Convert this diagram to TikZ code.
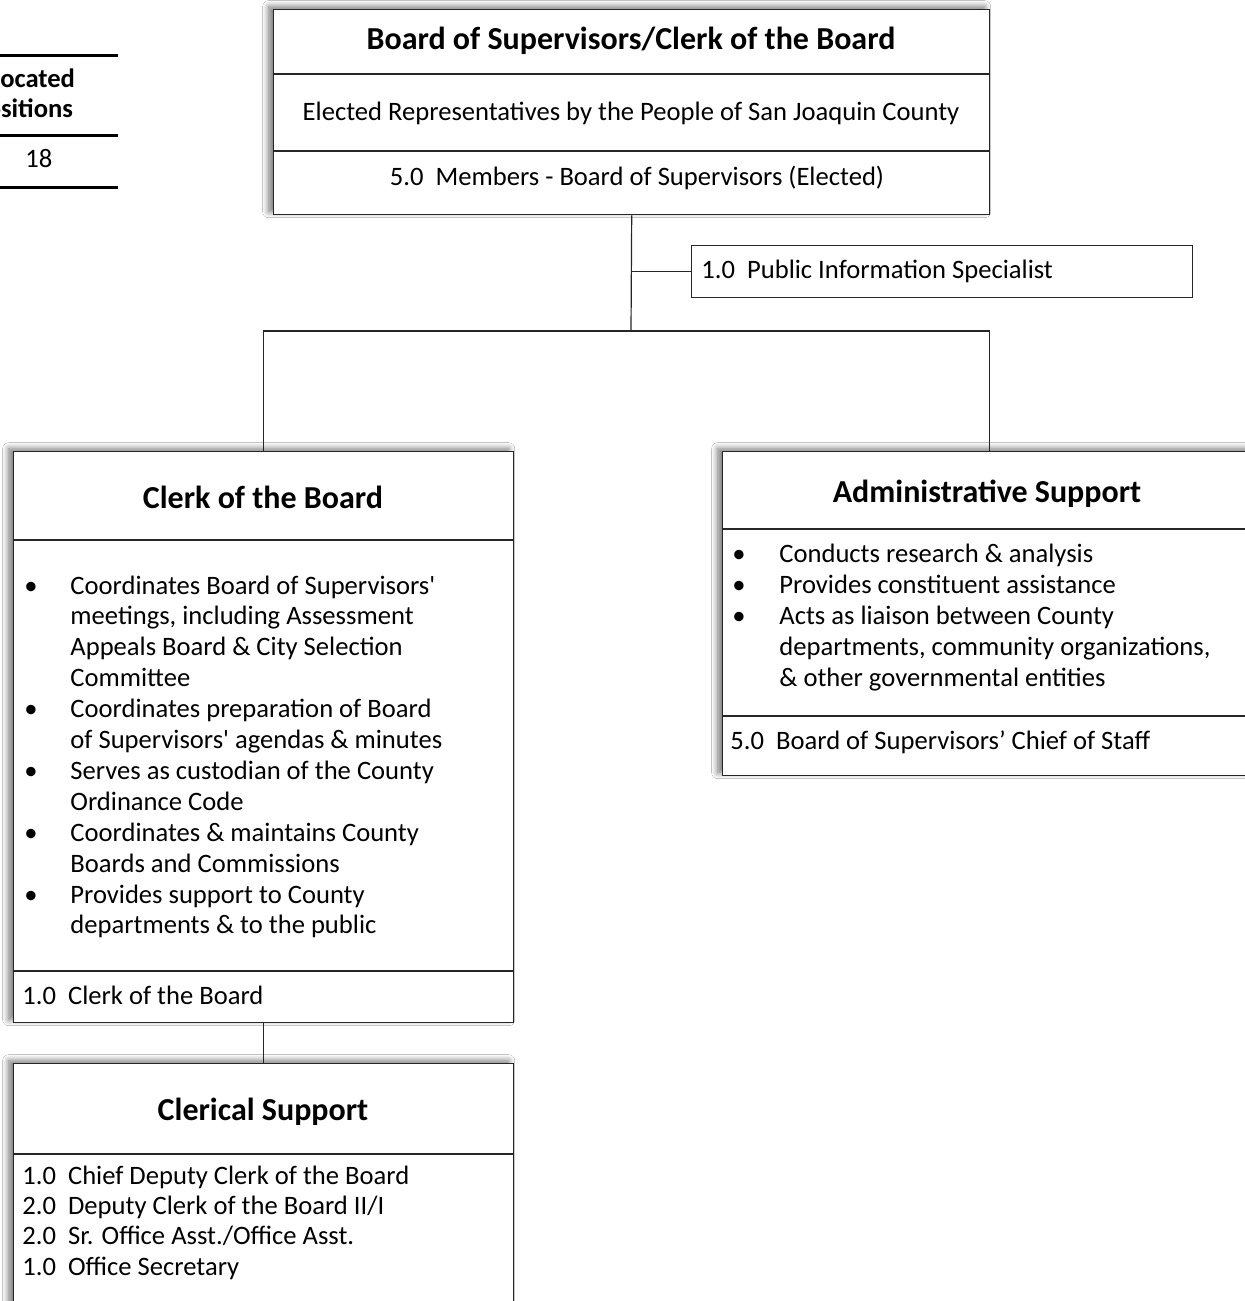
\documentclass[tikz,border=0pt]{standalone}
\usepackage{fontspec}
\setmainfont{Carlito}
\usetikzlibrary{shadows.blur,calc}
\newcommand\regfont{\fontsize{13.3}{15.45}\selectfont}
\newcommand\headfont{\fontsize{16}{18}\selectfont\bfseries}
\tikzset{
  box/.style={draw=black!85, line width=0.7pt, fill=white, rectangle, inner sep=0pt, anchor=north west},
  shbox/.style={box, blur shadow={shadow xshift=-2.5pt, shadow yshift=1.5pt, shadow blur radius=3pt, shadow blur steps=12, shadow opacity=55}},
  div/.style={draw=black!85, line width=0.7pt},
  conn/.style={draw=black!85, line width=0.6pt},
  rule/.style={draw=black, line width=1.5pt},
  lbl/.style={inner sep=0pt, font=\regfont},
  ttl/.style={inner sep=0pt, font=\headfont, anchor=base},
}
\begin{document}
\begin{tikzpicture}[x=0.5pt,y=-0.5pt]
\fill[white] (0,0) rectangle (1245,1301);
\path[use as bounding box] (0,0) rectangle (1245,1301);
\clip (0,0) rectangle (1245,1301);

% partial table at left
\draw[rule] (-5,55) -- (118,55);
\draw[rule] (-5,135) -- (118,135);
\draw[rule] (-5,187) -- (118,187);
\node[inner sep=0pt, font=\fontsize{13.3}{15}\selectfont\bfseries, align=center, anchor=base] (alloc) at (23,117) {Allocated\\[0pt]Positions};
\node[lbl, anchor=base west] (num) at (25,167) {18};

% top box
\node[shbox, minimum width=358pt, minimum height=102.5pt] (top) at (273,9) {};
\draw[div] (273,74) -- (989,74);
\draw[div] (273,151) -- (989,151);
\node[ttl] (toptitle) at (631,49) {Board of Supervisors/Clerk of the Board};
\node[lbl, anchor=base] (elected) at (631,120) {Elected Representatives by the People of San Joaquin County};
\node[lbl, anchor=base] (members) at (637,185) {5.0~~Members - Board of Supervisors (Elected)};

% public information specialist
\node[box, minimum width=250.5pt, minimum height=26pt] (pis) at (691,245) {};
\node[lbl, anchor=base west] (pistext) at (701,278) {1.0~~Public Information Specialist};

% clerk of the board
\node[shbox, minimum width=250pt, minimum height=285.5pt] (clerk) at (13,451) {};
\draw[div] (13,540) -- (513,540);
\draw[div] (13,971) -- (513,971);
\node[ttl] (clerktitle) at (263,508) {Clerk of the Board};
\node[lbl, anchor=base west] (clerklist) at (24,594) {\begin{tabular}[t]{@{}p{23pt}@{}l@{}}
\textbullet & Coordinates Board of Supervisors\textquotesingle\\
 & meetings, including Assessment\\
 & Appeals Board \& City Selection\\
 & Committee\\
\textbullet & Coordinates preparation of Board\\
 & of Supervisors\textquotesingle\ agendas \& minutes\\
\textbullet & Serves as custodian of the County\\
 & Ordinance Code\\
\textbullet & Coordinates \& maintains County\\
 & Boards and Commissions\\
\textbullet & Provides support to County\\
 & departments \& to the public
\end{tabular}};
\node[lbl, anchor=base west] (clerkpos) at (22,1004) {1.0~~Clerk of the Board};

% administrative support
\node[shbox, minimum width=267pt, minimum height=162pt] (admin) at (722,451) {};
\draw[div] (722,529) -- (1256,529);
\draw[div] (722,716) -- (1256,716);
\node[ttl] (admintitle) at (987,502) {Administrative Support};
\node[lbl, anchor=base west] (adminlist) at (732,562) {\fontsize{13.3}{15.6}\selectfont\begin{tabular}[t]{@{}p{23.5pt}@{}l@{}}
\textbullet & Conducts research \& analysis\\
\textbullet & Provides constituent assistance\\
\textbullet & Acts as liaison between County\\
 & departments, community organizations,\\
 & \& other governmental entities
\end{tabular}};
\node[lbl, anchor=base west] (adminpos) at (730,749) {5.0~~Board of Supervisors’ Chief of Staff};

% clerical support
\node[shbox, minimum width=250pt, minimum height=128.5pt] (cler) at (13,1063) {};
\draw[div] (13,1154) -- (513,1154);
\node[ttl] (clertitle) at (263,1120) {Clerical Support};
\node[lbl, anchor=base west] (clerlist) at (22,1184) {\fontsize{13.3}{15.2}\selectfont\begin{tabular}[t]{@{}l@{}}
1.0~~Chief Deputy Clerk of the Board\\
2.0~~Deputy Clerk of the Board II/I\\
2.0~~Sr. Office Asst./Office Asst.\\
1.0~~Office Secretary
\end{tabular}};

% connectors
\coordinate (hub) at (631,331);
\draw[conn] (top.south) -- (hub);
\draw[conn] (top.south |- pis.west) -- (pis.west);
\draw[conn] (clerk.north) |- (hub) -| (admin.north);
\draw[conn] (clerk.south) -- (cler.north);
\end{tikzpicture}
\end{document}
